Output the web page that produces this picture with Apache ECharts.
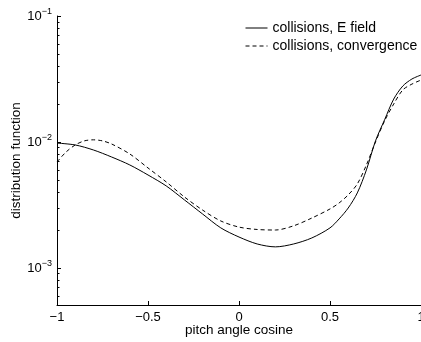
<!DOCTYPE html>
<html><head><meta charset="utf-8">
<script src="https://cdn.jsdelivr.net/npm/echarts@6/dist/echarts.min.js"></script>
<style>html,body{margin:0;padding:0;background:#fff}#c{width:421px;height:342px}</style>
</head><body><div id="c"></div>
<script>
const seriesNames = ['collisions, E field', 'collisions, convergence'];
const eFieldX = [-1,-0.9,-0.8,-0.7,-0.6,-0.5,-0.4,-0.3,-0.2,-0.1,0,0.1,0.2,0.3,0.4,0.5,0.55,0.6,0.65,0.7,0.75,0.8,0.85,0.9,0.95,1];
const eFieldY = [0.0098,0.00947,0.00864,0.0076,0.00657,0.00547,0.00448,0.00347,0.00268,0.00208,0.00176,0.00155,0.00147,0.00155,0.00173,0.00208,0.00245,0.00299,0.00394,0.0060,0.0102,0.0150,0.0219,0.0278,0.0316,0.0340];
const convX = [-1,-0.95,-0.9,-0.85,-0.8,-0.75,-0.7,-0.6,-0.5,-0.4,-0.3,-0.2,-0.1,0,0.1,0.2,0.3,0.4,0.5,0.55,0.6,0.65,0.7,0.75,0.8,0.85,0.9,0.95,1];
const convY = [0.00694,0.00833,0.00947,0.0102,0.0104,0.0102,0.00964,0.00803,0.00622,0.00482,0.00366,0.00288,0.00236,0.00211,0.00202,0.00200,0.00216,0.00249,0.00294,0.00328,0.0038,0.00464,0.00657,0.0100,0.0147,0.0200,0.0259,0.0288,0.0310];
const xTickValues = [-1,-0.5,0,0.5,1];
const xTickLabels = ['\u22121','\u22120.5','0','0.5','1'];
const yTickValues = [0.001,0.01,0.1];
const yTickExponents = ['\u22123','\u22122','\u22121'];
const yMinorTickValues = [0.0006,0.0007,0.0008,0.0009,0.002,0.003,0.004,0.005,0.006,0.007,0.008,0.009,0.02,0.03,0.04,0.05,0.06,0.07,0.08,0.09];
const xAxisName = 'pitch angle cosine';
const yAxisName = 'distribution function';
const yMin = 0.000508, yMax = 0.1;

const font = '"Liberation Sans", Arial, Helvetica, sans-serif';
const pair = (xs, ys) => xs.map((x, i) => [x, ys[i]]);
const chart = echarts.init(document.getElementById('c'), null, {renderer: 'canvas'});
chart.setOption({
  animation: false,
  backgroundColor: '#fff',
  textStyle: {fontFamily: font, color: '#000'},
  grid: {left: 57, right: 0, top: 16, bottom: 37, containLabel: false, outerBoundsMode: 'none'},
  legend: {
    data: seriesNames, orient: 'vertical', left: 245, top: 21,
    itemWidth: 22, itemHeight: 14, itemGap: 4, padding: 0, selectedMode: false,
    itemStyle: {opacity: 0},
    lineStyle: {width: 1},
    textStyle: {fontSize: 14, color: '#000', fontFamily: font}
  },
  xAxis: {
    type: 'value', min: -1, max: 1, interval: 0.5,
    name: xAxisName, nameLocation: 'middle', nameGap: 18, nameMoveOverlap: false,
    nameTextStyle: {fontSize: 13.5, color: '#000', fontFamily: font},
    axisLine: {show: true, onZero: false, lineStyle: {color: '#000', width: 1}},
    axisTick: {show: true, inside: true, length: 4, lineStyle: {color: '#000'}},
    splitLine: {show: false},
    axisLabel: {
      show: true, margin: 6, fontSize: 13, color: '#000', fontFamily: font,
      customValues: xTickValues,
      formatter: v => { const i = xTickValues.findIndex(t => Math.abs(t - v) < 1e-9); return i >= 0 ? xTickLabels[i] : ''; }
    }
  },
  yAxis: [{
    type: 'log', logBase: 10, min: yMin, max: yMax, position: 'left',
    name: yAxisName, nameLocation: 'middle', nameGap: 34, nameRotate: 90, nameMoveOverlap: false,
    nameTextStyle: {fontSize: 13.5, color: '#000', fontFamily: font},
    axisLine: {show: true, onZero: false, lineStyle: {color: '#000', width: 1}},
    axisTick: {show: true, inside: true, length: 4, customValues: yTickValues, lineStyle: {color: '#000'}},
    splitLine: {show: false},
    axisLabel: {
      show: true, margin: 5, color: '#000', fontFamily: font,
      customValues: yTickValues,
      formatter: v => { const i = yTickValues.findIndex(t => Math.abs(Math.log10(t) - Math.log10(v)) < 1e-6); return i >= 0 ? '{b|10}{e|' + yTickExponents[i] + '}' : ''; },
      rich: {
        b: {fontSize: 13, fontFamily: font, color: '#000'},
        e: {fontSize: 9, fontFamily: font, color: '#000', verticalAlign: 'bottom', padding: [0, 0, 9, 0]}
      }
    }
  }, {
    type: 'log', logBase: 10, min: yMin, max: yMax, position: 'left',
    axisLine: {show: false, onZero: false},
    axisTick: {show: true, inside: true, length: 2.5, customValues: yMinorTickValues, lineStyle: {color: '#000'}},
    axisLabel: {show: false},
    splitLine: {show: false}
  }],
  series: [{
    name: seriesNames[0], type: 'line', yAxisIndex: 0, data: pair(eFieldX, eFieldY),
    showSymbol: false, symbol: 'none', smooth: 0.3,
    lineStyle: {color: '#000', width: 1, type: 'solid'}, itemStyle: {color: '#000'}
  }, {
    name: seriesNames[1], type: 'line', yAxisIndex: 0, data: pair(convX, convY),
    showSymbol: false, symbol: 'none', smooth: 0.3,
    lineStyle: {color: '#000', width: 1, type: [4, 3]}, itemStyle: {color: '#000'}
  }]
});
</script></body></html>
